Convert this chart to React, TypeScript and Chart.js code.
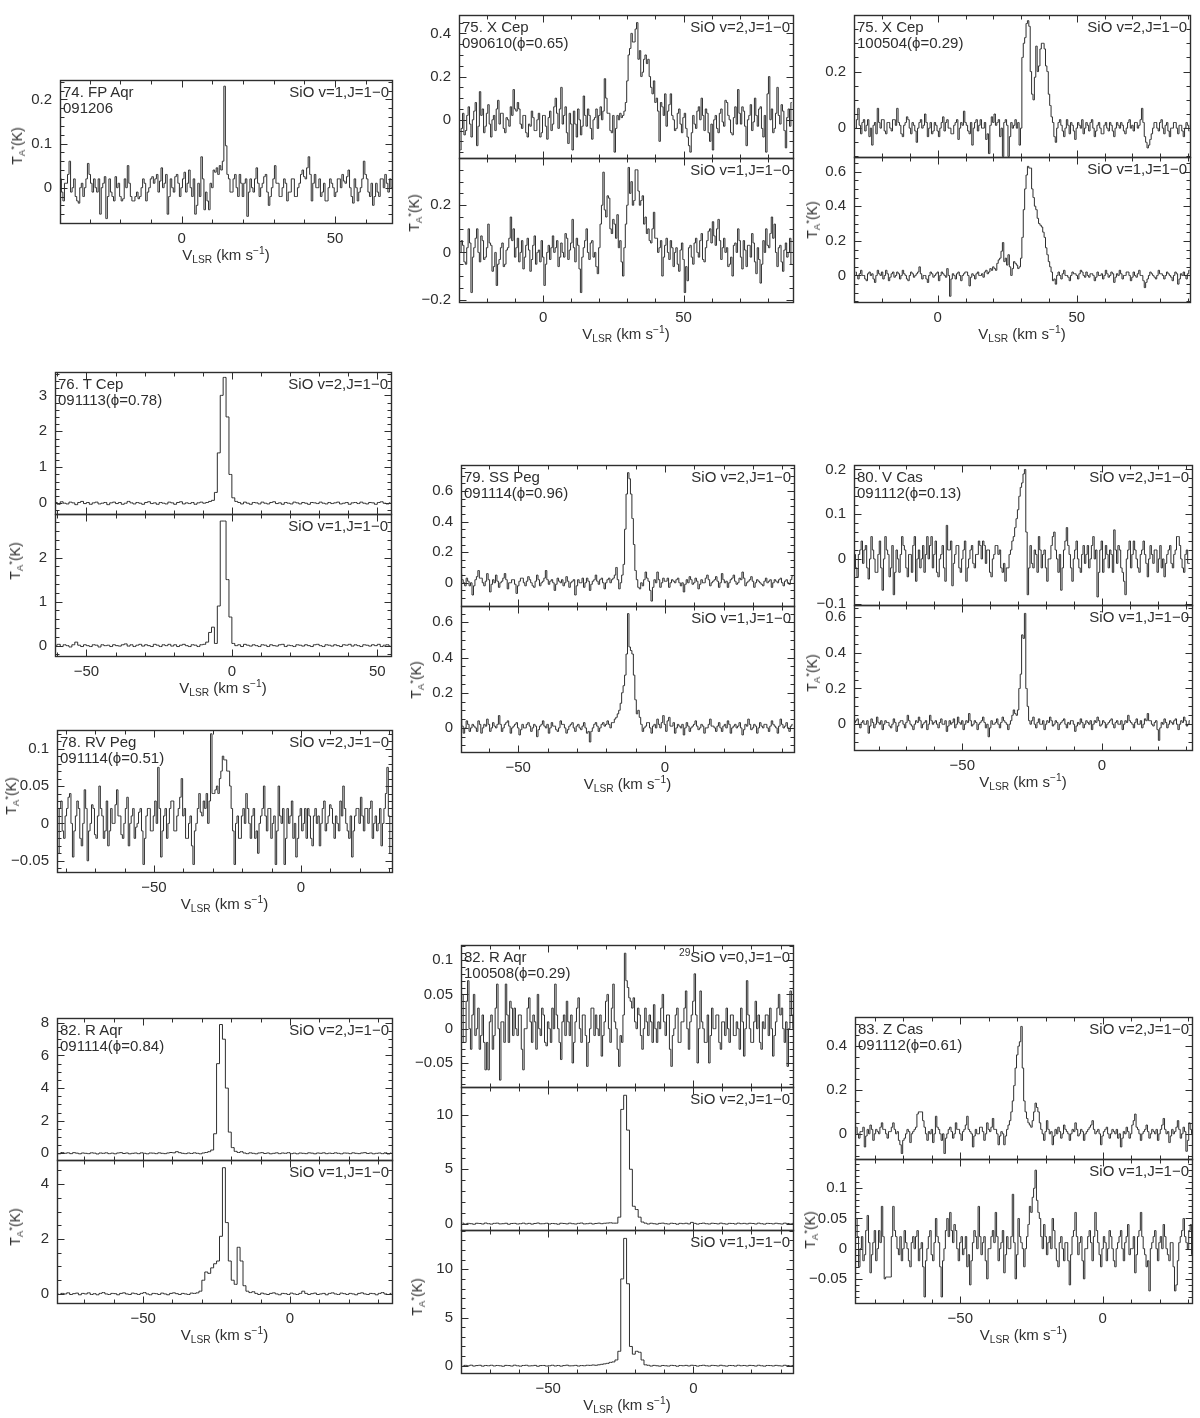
import React, { useEffect, useRef } from 'react';
import { Chart, registerables } from 'chart.js';

Chart.register(...registerables);

// ---------------- DATA (each spectrum: first-channel velocity v0, channel width dv, values) ----------------
const FP_AQR_V0 = -39.5;
const FP_AQR_DV = 0.5;
const FP_AQR_V1 = [
  0.02, -0.01, -0.03, 0.01, 0.01, 0.03, 0.06, -0.01, 0.0, 0.02, -0.02, -0.03, -0.035, 0.0, 0.01, -0.02, 0.0, 0.02, 0.055, 0.03,
  0.01, -0.01, 0.02, 0.0, -0.01, 0.02, -0.06, 0.0, 0.01, 0.025, -0.07, -0.02, 0.02, -0.01, -0.02, -0.03, 0.025, 0.0, 0.01, -0.02,
  -0.03, -0.025, 0.02, 0.0, 0.05, 0.01, -0.02, -0.03, -0.03, -0.02, -0.01, -0.025, -0.02, 0.0, 0.02, 0.01, -0.03, -0.01, 0.0, 0.02,
  0.025, 0.01, 0.02, 0.03, -0.01, 0.015, 0.045, 0.0, 0.01, 0.03, -0.06, -0.02, 0.02, 0.0, -0.01, 0.025, 0.03, 0.01, -0.02, 0.0,
  0.02, 0.035, -0.01, 0.01, 0.04, 0.0, -0.02, 0.02, -0.06, -0.04, 0.01, -0.02, 0.07, 0.02, -0.05, -0.01, -0.03, -0.05, 0.01, 0.0,
  0.04, 0.035, 0.045, 0.03, 0.05, 0.04, 0.06, 0.23, 0.095, 0.03, 0.02, -0.01, -0.01, 0.02, 0.03, 0.0, -0.02, 0.03, 0.01, -0.02,
  0.01, 0.02, -0.065, -0.01, 0.02, 0.0, -0.01, 0.02, 0.045, 0.01, -0.02, 0.0, 0.01, 0.025, 0.03, -0.01, -0.04, -0.02, 0.0, 0.02,
  0.05, 0.01, 0.01, -0.02, -0.02, 0.0, 0.02, 0.01, -0.03, -0.01, -0.01, 0.02, 0.02, -0.02, -0.02, 0.0, 0.01, 0.03, 0.04, 0.025,
  0.02, 0.045, 0.07, 0.03, -0.03, 0.01, 0.03, 0.0, 0.0, 0.02, -0.02, -0.01, 0.01, -0.03, -0.03, 0.0, 0.02, 0.01, 0.0, -0.02,
  -0.01, 0.02, 0.02, 0.0, 0.03, 0.015, 0.01, 0.025, 0.04, 0.0, -0.02, -0.035, 0.02, 0.0, -0.03, -0.01, 0.0, 0.02, 0.06, 0.03,
  0.02, -0.01, -0.02, 0.01, -0.04, -0.02, 0.01, -0.01, -0.02, 0.02, 0.02, 0.0, 0.03, 0.01, -0.01, 0.02, 0.0,
];

const XCEP_A_V0 = -29.5;
const XCEP_A_DV = 0.5;
const XCEP_A_V2 = [
  -0.14, -0.04, 0.03, -0.07, -0.05, 0.02, 0.06, -0.02, -0.08, 0.0, 0.04, 0.08, -0.12, -0.03, 0.13, 0.02, 0.05, -0.06, -0.03, 0.03,
  0.07, -0.02, -0.08, 0.0, 0.02, -0.05, 0.05, 0.09, -0.02, 0.03, 0.03, -0.04, -0.06, 0.01, 0.0, -0.03, 0.06, 0.02, 0.14, 0.05,
  0.04, 0.08, 0.05, -0.02, -0.04, 0.02, 0.02, -0.06, -0.08, -0.02, -0.03, 0.04, 0.01, -0.05, -0.05, 0.0, 0.03, -0.08, -0.06, 0.02,
  0.02, -0.03, -0.09, 0.01, 0.04, -0.05, -0.02, 0.06, 0.1, 0.03, -0.04, 0.05, 0.15, -0.02, 0.02, 0.06, -0.06, -0.11, 0.03, -0.02,
  -0.14, 0.04, -0.02, -0.08, 0.05, 0.0, -0.07, -0.03, 0.11, 0.02, -0.03, 0.05, 0.02, -0.04, -0.09, 0.0, 0.01, 0.05, -0.04, 0.02,
  0.06, 0.0, 0.04, 0.19, 0.1, 0.03, 0.03, -0.05, -0.06, 0.02, -0.15, -0.04, 0.02, 0.0, 0.03, 0.01, 0.02, 0.04, 0.08, 0.18,
  0.3, 0.33, 0.4, 0.36, 0.36, 0.42, 0.45, 0.28, 0.32, 0.2, 0.22, 0.28, 0.3, 0.26, 0.28, 0.2, 0.15, 0.12, 0.18, 0.08,
  0.1, 0.04, -0.1, 0.08, 0.06, 0.02, 0.12, -0.03, 0.04, 0.07, 0.12, 0.02, 0.0, -0.05, -0.04, 0.03, 0.05, -0.02, -0.06, 0.01,
  0.03, -0.04, -0.08, -0.12, -0.15, -0.06, 0.02, -0.02, -0.04, 0.04, 0.06, 0.0, 0.1, 0.02, -0.05, 0.05, 0.03, -0.06, -0.1, -0.02,
  -0.14, 0.0, 0.02, -0.04, -0.06, 0.03, 0.05, -0.01, -0.03, 0.09, 0.08, 0.02, 0.0, -0.06, -0.07, 0.01, 0.06, -0.02, 0.14, 0.03,
  -0.02, 0.06, 0.04, -0.03, -0.12, 0.0, 0.02, 0.07, -0.05, -0.01, 0.1, 0.02, -0.03, 0.05, 0.06, -0.04, -0.08, 0.02, -0.15, 0.12,
  0.2, 0.0, 0.05, -0.06, -0.04, 0.03, 0.15, 0.02, -0.02, 0.07, 0.04, -0.05, -0.13, 0.01, 0.05, -0.03, 0.08,
];
const XCEP_A_V1 = [
  0.0, 0.05, 0.03, -0.04, -0.05, 0.02, 0.1, 0.04, -0.17, -0.02, 0.02, 0.06, 0.1, 0.0, -0.04, 0.07, 0.05, -0.03, -0.02, 0.02,
  0.12, 0.04, 0.03, -0.08, -0.06, 0.0, -0.14, -0.05, -0.03, 0.02, 0.04, -0.06, -0.05, 0.01, 0.02, 0.06, 0.15, 0.05, 0.1, -0.02,
  0.02, 0.06, -0.04, 0.0, 0.05, -0.07, -0.02, 0.03, 0.06, 0.01, -0.08, -0.03, 0.03, 0.07, -0.05, 0.0, 0.01, -0.04, 0.05, -0.02,
  -0.14, -0.05, 0.0, 0.03, -0.03, 0.02, 0.07, 0.0, 0.02, 0.05, -0.06, -0.02, 0.04, 0.0, -0.02, 0.08, 0.06, -0.03, 0.01, 0.04,
  0.14, 0.02, -0.04, 0.06, 0.03, -0.07, -0.17, -0.02, 0.02, 0.05, 0.1, 0.0, -0.03, 0.04, 0.05, -0.02, 0.0, -0.06, -0.09, 0.02,
  0.12, 0.2, 0.34, 0.18, 0.15, 0.24, 0.23, 0.1, 0.08, 0.14, 0.12, 0.06, 0.16, 0.02, 0.05, -0.04, -0.1, 0.02, 0.12, 0.2,
  0.36, 0.25, 0.3, 0.2, 0.22, 0.35, 0.35, 0.26, 0.2, 0.22, 0.24, 0.12, 0.15, 0.08, 0.1, 0.05, 0.04, 0.1, 0.17, 0.06,
  0.06, 0.0, 0.02, 0.05, -0.1, -0.02, 0.03, 0.06, 0.0, -0.03, 0.05, 0.02, -0.06, 0.0, 0.02, -0.05, -0.08, 0.01, 0.04, -0.03,
  -0.17, -0.06, -0.12, 0.02, 0.03, -0.02, -0.05, 0.04, 0.06, 0.0, -0.02, 0.05, 0.08, -0.03, -0.04, 0.02, 0.05, 0.09, 0.1, 0.04,
  0.13, 0.07, 0.03, 0.1, 0.14, 0.05, -0.03, 0.02, 0.06, 0.0, 0.02, -0.06, -0.05, -0.02, -0.1, 0.03, 0.04, 0.0, 0.1, 0.05,
  -0.02, -0.07, 0.05, 0.01, -0.06, 0.03, 0.03, -0.02, 0.08, 0.04, -0.04, -0.09, 0.02, -0.03, -0.13, -0.05, 0.05, 0.0, 0.1, 0.03,
  0.02, 0.08, 0.15, 0.06, 0.12, 0.0, -0.06, 0.02, 0.03, -0.04, -0.08, 0.01, 0.04, -0.02, 0.0, 0.06, -0.05,
];

const XCEP_B_V0 = -29.5;
const XCEP_B_DV = 0.5;
const XCEP_B_V2 = [
  0.0, 0.03, 0.07, 0.01, -0.02, 0.02, 0.03, -0.01, 0.01, 0.03, -0.03, 0.0, -0.06, 0.01, 0.02, -0.02, 0.07, 0.02, 0.0, 0.03,
  0.03, -0.01, -0.02, 0.02, 0.02, 0.0, -0.01, 0.03, 0.03, 0.01, 0.07, 0.02, 0.01, -0.02, -0.03, 0.01, 0.02, 0.04, 0.03, 0.0,
  -0.02, 0.02, 0.01, -0.01, -0.05, 0.0, 0.02, 0.03, 0.0, 0.01, 0.05, 0.02, -0.03, 0.0, 0.02, -0.02, -0.01, 0.02, 0.01, -0.01,
  -0.03, 0.0, 0.02, 0.04, -0.01, 0.02, 0.03, 0.0, 0.0, -0.02, -0.02, 0.01, 0.02, 0.03, -0.04, 0.0, 0.02, 0.01, 0.06, 0.02,
  0.01, -0.01, -0.02, 0.02, -0.06, 0.0, 0.02, 0.03, -0.01, 0.01, 0.03, 0.0, 0.0, 0.02, -0.04, -0.02, -0.09, 0.01, 0.04, 0.02,
  0.05, 0.01, 0.02, 0.03, -0.03, 0.0, -0.1, 0.02, 0.03, 0.01, -0.1, -0.03, 0.02, 0.0, 0.01, 0.03, 0.0, 0.02, -0.06, 0.0,
  0.25, 0.3, 0.32, 0.37, 0.38, 0.36, 0.2, 0.12, 0.1, 0.18, 0.29, 0.2, 0.22, 0.28, 0.3, 0.3, 0.28, 0.22, 0.2, 0.12,
  0.08, 0.04, 0.02, -0.03, -0.05, 0.0, 0.02, 0.03, 0.01, -0.01, -0.03, 0.0, 0.03, 0.01, -0.02, 0.02, 0.01, -0.01, -0.04, 0.0,
  0.02, 0.01, 0.0, 0.03, -0.02, 0.0, 0.02, 0.01, -0.01, 0.02, 0.03, 0.0, -0.03, -0.01, 0.01, 0.02, 0.0, -0.02, -0.02, 0.01,
  0.02, 0.0, -0.01, 0.02, 0.01, -0.01, -0.03, 0.0, 0.02, 0.01, 0.0, 0.02, 0.01, -0.01, -0.02, 0.0, 0.02, 0.03, 0.0, 0.01,
  -0.01, 0.02, 0.02, 0.0, 0.01, 0.03, 0.07, 0.02, -0.03, -0.05, -0.07, -0.06, -0.04, -0.02, 0.0, 0.02, 0.02, 0.0, -0.01, 0.02,
  0.03, 0.0, -0.02, 0.01, 0.02, -0.01, -0.03, 0.0, 0.0, 0.02, 0.02, 0.0, -0.02, 0.01, 0.01, -0.01, -0.03, 0.0, 0.02, 0.01,
  -0.01,
];
const XCEP_B_V1 = [
  0.02, 0.0, -0.02, 0.01, 0.03, 0.0, 0.0, -0.02, -0.03, 0.01, 0.02, 0.0, 0.01, -0.02, -0.04, 0.0, 0.03, 0.01, 0.0, 0.02,
  -0.02, 0.0, 0.03, 0.01, -0.03, -0.01, 0.01, 0.02, -0.01, 0.0, 0.02, 0.01, -0.02, 0.0, 0.03, 0.01, 0.0, -0.02, -0.03, 0.0,
  0.02, 0.01, -0.01, 0.0, 0.01, 0.02, 0.05, 0.01, -0.02, 0.0, 0.0, -0.02, -0.04, 0.0, 0.02, 0.01, -0.01, 0.0, 0.01, 0.02,
  -0.03, 0.0, 0.02, 0.01, 0.0, -0.01, 0.04, 0.0, -0.12, -0.02, 0.01, 0.0, -0.02, 0.01, 0.02, 0.0, -0.03, 0.0, 0.01, 0.02,
  0.02, 0.0, -0.06, -0.01, 0.01, 0.0, -0.02, 0.01, 0.02, 0.0, 0.0, 0.01, -0.01, 0.02, 0.03, 0.01, 0.02, 0.04, 0.03, 0.05,
  0.04, 0.03, 0.07, 0.09, 0.1, 0.14, 0.19, 0.08, 0.1, 0.06, 0.12, 0.05, 0.0, 0.04, 0.08, 0.07, 0.06, 0.04, 0.05, 0.1,
  0.22, 0.38, 0.5, 0.58, 0.63, 0.62, 0.62, 0.5, 0.45, 0.4, 0.38, 0.33, 0.3, 0.29, 0.28, 0.25, 0.22, 0.16, 0.12, 0.08,
  0.05, 0.02, -0.03, -0.02, -0.05, 0.0, 0.02, 0.0, -0.02, 0.01, 0.03, 0.0, 0.0, -0.01, -0.03, 0.0, 0.02, 0.01, 0.01, 0.0,
  -0.02, 0.01, 0.03, 0.02, 0.0, -0.01, 0.02, 0.0, -0.01, 0.01, 0.01, 0.0, -0.03, -0.01, 0.02, 0.0, 0.0, 0.01, -0.02, 0.0,
  0.03, 0.01, -0.01, 0.0, 0.02, 0.01, -0.04, -0.01, 0.01, 0.0, 0.03, 0.01, -0.02, 0.0, 0.0, 0.02, 0.02, 0.0, -0.03, -0.01,
  0.02, 0.0, -0.01, 0.01, 0.03, 0.0, 0.0, -0.03, -0.07, -0.04, -0.02, 0.0, 0.02, 0.01, 0.0, -0.01, -0.02, 0.0, 0.03, 0.01,
  0.01, 0.0, -0.02, 0.0, 0.02, 0.01, 0.0, -0.01, -0.03, 0.0, 0.02, 0.01, -0.05, -0.02, 0.01, 0.0, 0.02, 0.0, -0.02, 0.01,
  0.03,
];

const TCEP_V0 = -60.5;
const TCEP_DV = 1;
const TCEP_V2 = [
  0.02, -0.03, 0.04, 0.0, -0.02, 0.03, 0.01, -0.04, 0.02, 0.05,
  -0.01, 0.02, -0.03, 0.01, 0.03, -0.02, 0.0, 0.02, -0.04, 0.01,
  0.03, -0.01, 0.02, -0.03, 0.0, 0.05, 0.01, -0.02, 0.02, 0.0,
  -0.03, 0.02, 0.04, -0.01, 0.01, -0.03, 0.02, 0.0, -0.02, 0.03,
  0.01, -0.03, 0.02, 0.04, -0.02, 0.01, -0.01, 0.02, -0.03, 0.01,
  0.03, 0.0, 0.02, 0.05, 0.08, 0.3, 1.4, 3.0, 3.5, 2.4,
  0.8, 0.15, 0.05, 0.02, -0.02, 0.03, 0.0, -0.03, 0.02, 0.01,
  -0.02, 0.03, 0.0, -0.02, 0.02, 0.04, -0.01, 0.01, -0.03, 0.02,
  0.0, -0.02, 0.03, 0.01, -0.02, 0.02, 0.0, -0.03, 0.02, 0.01,
  -0.01, 0.03, 0.0, -0.02, 0.02, -0.01, 0.01, 0.03, -0.02, 0.0,
  0.02, -0.03, 0.01, 0.02, -0.01, 0.03, 0.0, -0.02, 0.02, 0.01,
  -0.03, 0.02, 0.04, 0.0, -0.02, 0.01,
];
const TCEP_V1 = [
  0.01, 0.03, -0.02, 0.02, 0.0, -0.03, 0.02, 0.08, 0.01, -0.02,
  0.02, 0.0, -0.02, 0.02, 0.01, -0.03, 0.02, 0.0, 0.01, -0.02,
  0.02, 0.0, -0.01, 0.02, 0.04, -0.01, 0.02, -0.02, 0.01, 0.03,
  -0.01, 0.02, 0.0, -0.02, 0.03, 0.01, -0.02, 0.02, 0.0, 0.03,
  -0.01, 0.02, -0.02, 0.01, 0.03, 0.0, -0.02, 0.02, 0.01, -0.02,
  0.02, 0.03, 0.08, 0.3, 0.42, 0.05, 0.9, 2.83, 2.83, 1.5,
  0.65, 0.05, 0.0, 0.02, -0.02, 0.03, 0.01, -0.01, 0.02, 0.0,
  -0.02, 0.02, 0.01, -0.02, 0.02, 0.0, -0.01, 0.02, 0.03, -0.02,
  0.01, 0.0, -0.02, 0.02, 0.01, -0.01, 0.02, 0.0, -0.02, 0.02,
  0.03, 0.0, -0.02, 0.02, 0.01, -0.01, 0.02, 0.0, -0.02, 0.02,
  0.01, 0.03, -0.01, 0.02, 0.0, -0.02, 0.02, 0.01, -0.01, 0.02,
  0.0, 0.03, -0.02, 0.01, 0.02, -0.01,
];

const RVPEG_V0 = -82.5;
const RVPEG_DV = 0.5;
const RVPEG_V2 = [
  -0.04, 0.02, 0.03, -0.01, -0.02, 0.01, 0.02, 0.035, 0.04, 0.0, -0.045, -0.01, 0.01, 0.03, 0.02, -0.02, -0.03, 0.0, 0.045, 0.02,
  -0.05, -0.01, 0.0, 0.025, 0.02, -0.015, -0.02, 0.01, 0.05, 0.02, 0.01, -0.02, -0.01, 0.03, -0.03, -0.01, 0.02, 0.0, 0.0, 0.025,
  0.045, 0.01, 0.01, -0.015, -0.02, 0.0, 0.02, 0.035, -0.03, 0.0, 0.01, 0.02, -0.02, -0.005, 0.0, 0.015, 0.02, -0.01, -0.055, -0.02,
  0.01, 0.02, 0.02, -0.01, -0.01, 0.01, 0.03, 0.0, 0.075, 0.02, -0.045, -0.01, 0.01, 0.02, -0.02, 0.0, 0.02, 0.03, 0.03, -0.01,
  -0.01, 0.01, 0.02, 0.035, 0.06, 0.01, 0.02, -0.02, -0.02, 0.0, 0.01, -0.03, -0.055, -0.01, 0.0, 0.02, 0.04, 0.015, 0.01, 0.03,
  0.02, 0.04, 0.0, 0.03, 0.12, 0.04, 0.04, 0.045, 0.05, 0.04, 0.06, 0.07, 0.09, 0.085, 0.085, 0.07, 0.07, 0.05, 0.02, -0.01,
  -0.055, 0.0, 0.01, -0.02, -0.02, 0.01, 0.02, 0.0, 0.04, 0.02, 0.0, -0.02, 0.01, 0.02, -0.02, -0.01, -0.04, 0.0, 0.01, 0.02,
  0.05, 0.01, -0.01, 0.02, 0.02, -0.02, 0.0, 0.01, -0.055, -0.01, 0.05, 0.01, 0.0, 0.02, -0.055, -0.02, 0.02, 0.0, 0.01, 0.03,
  -0.02, 0.0, -0.045, -0.02, 0.01, 0.02, -0.01, 0.0, 0.02, -0.02, 0.02, 0.01, -0.02, -0.03, 0.01, 0.02, 0.0, 0.01, -0.03, 0.0,
  0.02, 0.03, -0.01, 0.0, 0.01, 0.025, 0.02, 0.0, -0.02, 0.01, 0.0, -0.01, 0.03, 0.01, 0.05, 0.02, 0.0, -0.01, -0.02, 0.01,
  -0.045, -0.01, 0.01, 0.02, 0.02, 0.0, 0.035, 0.01, -0.01, 0.02, 0.02, 0.0, 0.02, 0.03, -0.02, 0.0, 0.01, -0.01, 0.0, 0.02,
  -0.03, 0.0, 0.02, 0.04, 0.075, 0.01, -0.04,
];

const SSPEG_V0 = -69.5;
const SSPEG_DV = 0.5;
const SSPEG_V2 = [
  0.06, 0.02, 0.0, -0.02, 0.03, 0.01, -0.02, 0.0, -0.08, -0.02, 0.02, 0.04, 0.08, 0.03, 0.03, 0.0, -0.02, 0.01, 0.06, 0.02,
  -0.06, -0.01, 0.02, 0.0, 0.05, 0.01, -0.03, 0.0, 0.01, 0.03, 0.06, 0.02, -0.04, 0.0, 0.0, 0.02, 0.02, -0.01, -0.07, -0.02,
  0.01, 0.03, 0.03, 0.0, -0.02, 0.01, 0.04, 0.02, 0.0, -0.02, -0.03, 0.01, 0.05, 0.02, -0.02, 0.0, 0.01, 0.03, 0.08, 0.02,
  -0.01, 0.01, 0.02, 0.0, -0.05, -0.01, 0.03, 0.01, 0.0, 0.02, -0.02, 0.0, 0.04, 0.01, -0.03, 0.0, 0.01, 0.02, -0.08, -0.02,
  0.02, 0.0, 0.0, 0.03, -0.03, 0.0, 0.03, 0.01, -0.05, -0.01, 0.01, 0.02, 0.05, 0.01, -0.01, 0.02, 0.03, 0.0, -0.04, 0.0,
  0.02, 0.03, 0.0, 0.02, 0.03, 0.05, 0.1, 0.02, -0.04, 0.0, 0.05, 0.12, 0.35, 0.58, 0.72, 0.68, 0.58, 0.42, 0.25, 0.08,
  0.02, -0.03, -0.04, 0.0, -0.02, 0.02, 0.07, 0.03, 0.01, -0.05, -0.12, -0.03, 0.02, 0.0, 0.07, 0.02, -0.03, 0.0, 0.03, 0.01,
  0.01, 0.03, -0.03, 0.0, 0.02, 0.01, 0.0, 0.02, 0.03, 0.0, -0.02, 0.0, -0.06, -0.01, 0.02, 0.0, 0.04, 0.02, -0.01, 0.0,
  0.03, 0.01, -0.04, -0.01, 0.02, 0.0, 0.0, 0.03, 0.05, 0.02, -0.02, 0.0, 0.01, 0.02, 0.04, 0.01, -0.03, 0.0, 0.06, 0.02,
  0.0, 0.01, -0.03, 0.0, 0.02, 0.03, 0.05, 0.01, -0.01, 0.0, 0.03, 0.02, 0.07, 0.03, -0.02, 0.0, 0.01, 0.02, 0.04, 0.01,
  -0.03, 0.0, 0.02, 0.01, 0.0, -0.01, -0.02, 0.01, 0.03, 0.0, 0.01, 0.02, -0.03, 0.0, 0.02, 0.01, 0.0, 0.02, 0.03, 0.0,
  -0.02, 0.01, 0.02, 0.0, -0.01, 0.02, 0.04,
];
const SSPEG_V1 = [
  0.05, 0.01, -0.03, 0.0, 0.04, 0.02, -0.02, 0.0, 0.02, 0.01, 0.0, -0.02, 0.04, 0.02, -0.03, 0.0, 0.02, 0.01, 0.05, 0.02,
  -0.02, 0.0, 0.03, 0.01, 0.0, 0.02, 0.07, 0.02, -0.02, 0.0, 0.02, 0.03, 0.04, 0.01, -0.03, 0.0, 0.01, 0.02, 0.03, 0.0,
  -0.04, -0.01, 0.02, 0.0, 0.0, 0.02, 0.03, 0.01, -0.02, 0.0, 0.02, 0.01, -0.05, -0.01, 0.01, 0.02, 0.04, 0.01, 0.0, 0.02,
  -0.03, 0.0, 0.03, 0.01, 0.01, -0.01, -0.02, 0.0, 0.04, 0.02, 0.02, 0.0, -0.03, -0.01, 0.01, 0.02, 0.03, 0.0, -0.02, 0.01,
  0.02, 0.0, -0.01, 0.01, 0.03, 0.0, -0.03, -0.02, -0.08, -0.02, 0.0, 0.02, 0.03, 0.01, -0.02, 0.0, 0.02, 0.03, 0.01, 0.02,
  0.04, 0.02, 0.0, 0.03, 0.03, 0.05, 0.06, 0.08, 0.1, 0.14, 0.2, 0.24, 0.3, 0.42, 0.65, 0.46, 0.44, 0.42, 0.3, 0.16,
  0.08, 0.1, 0.06, 0.02, -0.02, 0.0, 0.01, 0.03, 0.03, 0.0, -0.03, 0.01, 0.02, 0.0, 0.05, 0.02, 0.0, 0.03, 0.07, 0.02,
  -0.02, 0.04, 0.06, 0.01, 0.01, 0.03, -0.03, 0.0, 0.02, 0.01, 0.0, 0.02, -0.04, 0.0, 0.03, 0.01, -0.02, 0.0, 0.01, 0.02,
  0.04, 0.01, -0.01, 0.0, 0.02, 0.01, -0.03, 0.0, 0.0, 0.02, 0.05, 0.01, 0.01, 0.0, -0.02, 0.01, 0.03, 0.0, -0.02, 0.01,
  0.02, 0.0, 0.04, 0.02, -0.03, 0.0, 0.01, 0.02, 0.0, 0.01, 0.03, 0.0, -0.04, -0.01, 0.02, 0.01, 0.05, 0.02, -0.01, 0.0,
  0.02, 0.01, -0.03, 0.0, 0.03, 0.01, 0.0, 0.02, 0.02, 0.0, -0.02, 0.01, 0.04, 0.02, 0.01, 0.0, -0.03, 0.01, 0.05, 0.02,
  0.0, 0.01, 0.03, 0.0, -0.02, 0.01, 0.02,
];

const VCAS_V0 = -88.5;
const VCAS_DV = 0.5;
const VCAS_V2 = [
  0.01, -0.02, -0.04, 0.01, 0.02, 0.04, -0.01, 0.02, 0.03, -0.02, -0.045, 0.0, 0.05, 0.02, 0.0, -0.03, -0.03, 0.01, 0.04, -0.02,
  -0.07, 0.0, 0.05, 0.02, 0.01, -0.04, -0.02, 0.03, -0.08, -0.03, 0.02, 0.0, -0.03, 0.01, 0.05, 0.03, 0.02, -0.02, -0.04, 0.01,
  0.01, -0.03, 0.03, 0.05, -0.05, 0.0, 0.02, -0.02, 0.0, 0.03, -0.03, 0.01, 0.05, 0.0, 0.03, 0.05, -0.02, 0.01, 0.04, -0.03,
  -0.04, 0.0, 0.01, 0.03, -0.02, -0.05, 0.075, 0.02, 0.02, 0.04, -0.06, -0.01, 0.01, 0.03, 0.03, -0.02, -0.03, 0.0, 0.02, 0.04,
  -0.05, -0.02, 0.0, 0.02, 0.03, -0.01, -0.02, 0.01, 0.01, 0.04, 0.03, 0.0, 0.04, 0.03, -0.01, 0.02, 0.02, -0.03, -0.04, 0.0,
  0.01, 0.03, 0.03, 0.01, 0.02, -0.02, -0.03, -0.01, -0.05, -0.02, -0.02, 0.01, 0.02, 0.04, 0.05, 0.07, 0.09, 0.11, 0.14, 0.16,
  0.17, 0.19, 0.2, 0.06, -0.08, -0.02, 0.03, -0.01, -0.02, 0.02, 0.01, -0.03, 0.05, 0.02, -0.02, 0.01, 0.02, -0.02, -0.05, 0.0,
  0.0, 0.03, 0.05, 0.06, 0.02, 0.0, -0.03, 0.01, -0.07, -0.02, 0.02, 0.04, 0.07, 0.03, 0.01, -0.02, -0.05, 0.0, 0.02, 0.04,
  0.0, -0.02, -0.03, 0.01, 0.03, -0.01, 0.01, 0.03, -0.02, 0.0, 0.03, 0.05, 0.0, 0.02, -0.085, -0.03, 0.02, 0.04, -0.03, 0.0,
  0.03, 0.01, -0.02, 0.02, 0.01, -0.03, 0.065, 0.02, -0.01, 0.03, 0.02, -0.02, -0.03, -0.05, -0.08, 0.0, 0.02, 0.04, -0.02, 0.01,
  0.04, 0.02, 0.0, -0.02, -0.03, 0.01, 0.02, 0.04, 0.01, -0.01, -0.04, 0.0, 0.03, 0.01, -0.01, 0.02, 0.02, -0.03, 0.0, 0.03,
  -0.02, 0.0, -0.04, -0.01, 0.01, 0.02, 0.03, -0.01, -0.02, 0.01, 0.02, 0.05, 0.05, 0.03, 0.0, -0.02, -0.03, 0.01, 0.02, -0.01,
  -0.01,
];
const VCAS_V1 = [
  0.01, 0.02, 0.03, 0.0, -0.02, 0.01, 0.02, 0.0, 0.0, 0.02, -0.05, -0.01, 0.03, 0.01, -0.02, 0.0, 0.04, 0.01, 0.0, 0.02,
  -0.03, 0.0, 0.02, 0.01, 0.01, -0.01, -0.02, 0.0, 0.03, 0.01, -0.04, -0.01, 0.01, 0.02, 0.02, 0.0, -0.02, 0.01, 0.05, 0.02,
  0.0, -0.01, -0.03, 0.0, 0.02, 0.01, 0.04, 0.02, -0.02, 0.0, 0.01, 0.02, -0.03, 0.0, 0.05, 0.02, 0.0, 0.01, 0.02, 0.0,
  -0.02, 0.01, 0.03, 0.0, 0.0, 0.02, -0.04, -0.01, 0.02, 0.0, 0.01, 0.03, -0.02, 0.0, 0.04, 0.01, 0.0, 0.02, -0.03, 0.0,
  0.02, 0.01, 0.06, 0.02, -0.01, 0.0, 0.02, 0.01, -0.03, 0.0, 0.01, 0.02, 0.04, 0.01, -0.02, 0.0, -0.07, -0.02, 0.02, 0.0,
  0.0, 0.01, 0.03, 0.0, -0.02, 0.01, 0.04, 0.02, 0.01, 0.0, -0.03, 0.0, 0.02, 0.05, 0.08, 0.06, 0.05, 0.08, 0.2, 0.28,
  0.5, 0.48, 0.62, 0.2, 0.1, 0.02, 0.0, 0.02, 0.04, 0.0, -0.02, 0.01, 0.03, 0.0, 0.0, 0.02, -0.03, 0.0, 0.02, 0.01,
  0.04, 0.02, -0.01, 0.0, 0.02, 0.01, -0.03, 0.0, 0.01, 0.02, 0.03, 0.0, -0.02, 0.01, 0.0, 0.02, 0.02, 0.0, -0.04, -0.01,
  0.01, 0.0, 0.03, 0.01, -0.02, 0.0, 0.02, 0.01, 0.0, 0.02, -0.03, 0.0, 0.02, 0.01, 0.04, 0.02, -0.01, 0.0, 0.02, 0.01,
  -0.02, 0.0, 0.01, 0.02, 0.03, 0.0, -0.02, 0.01, 0.02, 0.0, 0.0, 0.02, -0.03, 0.0, 0.02, 0.01, 0.05, 0.02, 0.01, 0.0,
  -0.02, 0.01, 0.03, 0.0, 0.0, 0.02, -0.02, 0.0, 0.03, 0.02, 0.06, 0.02, 0.02, 0.0, -0.01, 0.01, 0.02, -0.03, -0.09, -0.02,
  0.01, 0.0, 0.03, 0.01, -0.02, 0.0, 0.02, 0.01, 0.0, 0.02, 0.03, 0.0, -0.03, 0.0, 0.02, 0.01, 0.04, 0.02, -0.01, 0.0,
  0.02,
];

const RAQR_A_V0 = -79.5;
const RAQR_A_DV = 1;
const RAQR_A_V2 = [
  0.02, -0.03, 0.05, 0.0, 0.03, -0.02, 0.04, 0.01, -0.03, 0.02,
  0.0, -0.02, 0.03, 0.01, -0.04, 0.02, 0.0, 0.03, -0.02, 0.01,
  -0.03, 0.02, 0.04, -0.01, 0.02, -0.03, 0.0, 0.02, -0.02, 0.03,
  0.0, -0.03, 0.02, 0.01, -0.02, 0.03, 0.0, -0.02, 0.02, 0.05,
  0.03, 0.1, 0.04, 0.0, -0.02, 0.02, -0.01, 0.03, 0.0, -0.03,
  0.02, 0.05, 0.1, 0.2, 1.2, 5.5, 7.9, 7.0, 4.0, 1.3,
  0.35, 0.12, 0.05, 0.1, 0.02, -0.02, 0.03, 0.0, -0.03, 0.02,
  0.04, -0.01, 0.02, -0.03, 0.0, 0.03, -0.02, 0.02, 0.0, 0.04,
  -0.02, 0.01, -0.03, 0.02, 0.0, -0.02, 0.03, 0.01, -0.03, 0.02,
  0.0, 0.03, -0.02, 0.01, -0.01, 0.03, 0.0, -0.03, 0.02, 0.01,
  -0.02, 0.03, 0.0, -0.02, 0.02, 0.04, -0.01, 0.02, -0.03, 0.0,
  0.02, -0.02, 0.03, -0.04, 0.02,
];
const RAQR_A_V1 = [
  0.03, -0.02, 0.02, 0.0, 0.04, -0.02, 0.01, 0.03, -0.03, 0.02,
  0.0, 0.04, -0.02, 0.01, -0.03, 0.02, 0.05, 0.0, -0.02, 0.02,
  0.01, -0.03, 0.02, 0.04, 0.0, -0.02, 0.03, 0.01, -0.02, 0.02,
  0.05, 0.0, -0.03, 0.02, 0.01, -0.02, 0.03, 0.0, -0.03, 0.02,
  0.04, 0.01, -0.02, 0.02, 0.0, -0.02, 0.03, 0.02, 0.04, 0.1,
  0.5, 0.8, 0.75, 0.95, 1.1, 1.2, 2.1, 4.6, 2.6, 1.2,
  0.5, 0.35, 1.7, 1.2, 0.3, 0.1, 0.05, 0.08, 0.02, -0.02,
  0.03, 0.0, -0.02, 0.02, 0.04, 0.0, -0.03, 0.02, 0.01, -0.02,
  0.03, 0.0, -0.02, 0.02, 0.1, 0.02, -0.02, 0.01, 0.03, -0.02,
  0.0, 0.02, -0.03, 0.02, 0.04, 0.0, -0.02, 0.03, 0.01, -0.02,
  0.02, 0.0, -0.03, 0.02, 0.04, 0.0, -0.02, 0.02, 0.01, -0.03,
  0.02, 0.05, 0.0, -0.02, 0.02,
];

const RAQR_B_V0 = -79.5;
const RAQR_B_29SIO_DV = 0.5;
const RAQR_B_29SIO_V0 = [
  0.05, -0.02, -0.02, 0.04, 0.07, 0.0, -0.03, 0.02, 0.05, -0.01, 0.0, 0.03, -0.03, -0.01, 0.02, -0.02, -0.06, -0.02, -0.06, 0.01,
  0.02, -0.03, -0.01, 0.03, 0.065, 0.0, -0.075, 0.01, 0.01, -0.02, 0.065, 0.02, -0.02, 0.04, 0.03, -0.01, 0.03, 0.0, -0.01, 0.02,
  0.02, -0.03, -0.06, 0.0, 0.0, 0.03, 0.045, 0.01, -0.02, 0.02, 0.01, -0.03, 0.05, 0.0, -0.01, 0.03, 0.02, -0.02, -0.025, 0.01,
  0.0, -0.02, 0.03, 0.0, 0.065, 0.02, 0.0, -0.02, -0.045, 0.01, 0.02, -0.01, 0.04, 0.01, -0.01, 0.02, -0.05, -0.02, 0.01, 0.03,
  0.045, 0.0, -0.02, 0.02, 0.02, -0.01, -0.055, -0.02, 0.0, 0.03, 0.03, -0.01, 0.02, 0.0, -0.01, 0.02, -0.04, -0.01, 0.01, 0.04,
  0.05, 0.0, -0.02, 0.03, 0.065, 0.01, 0.0, -0.03, -0.055, -0.01, -0.02, 0.02, 0.11, 0.07, 0.06, 0.045, 0.04, 0.03, 0.045, 0.01,
  0.0, 0.03, 0.02, -0.01, -0.03, 0.0, 0.03, 0.01, -0.01, 0.02, 0.01, -0.02, 0.035, 0.0, -0.02, 0.01, 0.0, 0.03, 0.05, 0.01,
  -0.01, 0.02, 0.02, -0.03, -0.055, -0.01, 0.0, 0.02, 0.03, -0.02, -0.02, 0.01, 0.01, 0.03, 0.055, 0.0, -0.03, 0.01, 0.02, 0.04,
  0.08, 0.02, -0.05, 0.0, 0.055, 0.01, 0.0, -0.02, -0.02, 0.02, -0.05, -0.01, 0.03, 0.0, 0.0, 0.02, 0.02, -0.02, -0.03, 0.01,
  0.01, -0.01, 0.03, 0.0, -0.02, 0.02, 0.02, -0.01, -0.01, 0.01, 0.0, -0.03, 0.03, 0.01, -0.04, 0.0, 0.07, 0.02, 0.0, -0.02,
  -0.02, 0.01, 0.04, 0.0, 0.02, -0.02, -0.03, 0.01, 0.0, 0.02, 0.02, -0.01, 0.03, 0.0, -0.04, -0.01, 0.01, 0.03, 0.05, 0.02,
  0.03, 0.0, -0.02, 0.01, -0.055, 0.0, 0.055, 0.02, 0.0,
];
const RAQR_B_DV = 1;
const RAQR_B_V2 = [
  0.05, -0.04, 0.03, 0.0, -0.05, 0.04, 0.02, -0.03, 0.06, 0.0,
  -0.04, 0.03, 0.05, -0.02, 0.0, 0.04, -0.05, 0.02, 0.03, -0.03,
  0.0, 0.05, -0.02, 0.03, -0.04, 0.02, 0.06, -0.01, 0.0, 0.04,
  -0.03, 0.02, 0.0, -0.05, 0.04, 0.02, -0.02, 0.05, 0.0, -0.03,
  0.03, 0.06, -0.02, 0.0, 0.04, -0.03, 0.02, 0.05, 0.0, 0.04,
  0.06, 0.08, 0.05, 0.05, 0.6, 10.5, 11.8, 8.6, 5.0, 1.6,
  1.3, 0.6, 0.15, 0.05, -0.03, 0.04, 0.0, -0.04, 0.03, 0.05,
  0.0, -0.03, 0.04, 0.02, -0.05, 0.03, 0.0, 0.04, -0.02, 0.12,
  0.03, -0.04, 0.02, 0.05, 0.0, -0.03, 0.04, 0.02, -0.02, 0.05,
  0.0, -0.04, 0.03, 0.02, -0.03, 0.05, 0.0, 0.03, -0.02, 0.04,
  0.02, -0.03, 0.05, 0.0, -0.04, 0.03, 0.02, -0.02, 0.04, 0.0,
  -0.03, 0.05, 0.02, -0.02, 0.03,
];
const RAQR_B_V1 = [
  -0.05, 0.04, 0.0, 0.06, -0.03, 0.02, 0.05, -0.04, 0.03, 0.0,
  0.05, -0.02, 0.03, 0.0, -0.05, 0.04, 0.02, -0.03, 0.06, 0.0,
  -0.04, 0.03, 0.05, -0.02, 0.0, 0.04, -0.05, 0.02, 0.03, -0.03,
  0.0, 0.05, -0.02, 0.03, -0.04, 0.02, 0.06, -0.01, 0.0, 0.04,
  -0.03, 0.02, 0.0, 0.05, 0.04, 0.08, 0.05, 0.1, 0.15, 0.2,
  0.25, 0.35, 0.4, 0.6, 1.5, 9.0, 13.2, 8.5, 2.0, 1.2,
  1.5, 1.4, 0.6, 0.1, 0.05, -0.03, 0.04, 0.0, -0.04, 0.03,
  0.0, -0.03, 0.04, 0.02, -0.05, 0.03, 0.0, 0.04, -0.02, 0.05,
  0.03, -0.04, 0.02, 0.05, 0.0, -0.03, 0.04, 0.02, -0.02, 0.05,
  0.0, -0.04, 0.03, 0.02, -0.03, 0.05, 0.0, 0.03, -0.02, 0.04,
  0.02, -0.03, 0.05, 0.0, -0.04, 0.03, 0.02, -0.02, 0.04, 0.0,
  -0.03, 0.05, 0.02, -0.02, 0.03,
];

const ZCAS_V0 = -86.5;
const ZCAS_DV = 0.5;
const ZCAS_V2 = [
  0.03, 0.0, -0.02, 0.01, 0.01, 0.03, -0.06, -0.01, 0.02, 0.0, 0.04, 0.02, -0.03, 0.0, 0.02, 0.01, 0.0, 0.03, 0.05, 0.02,
  0.02, 0.0, -0.02, 0.01, 0.01, 0.03, 0.05, 0.02, 0.0, 0.01, -0.03, -0.05, -0.09, -0.03, -0.02, 0.0, 0.02, 0.01, -0.04, 0.0,
  0.01, 0.02, 0.03, 0.09, 0.1, 0.1, 0.1, 0.06, 0.03, 0.0, -0.03, 0.01, 0.0, 0.02, -0.04, 0.0, 0.08, 0.03, 0.02, 0.0,
  -0.03, 0.0, -0.09, -0.02, 0.0, 0.02, 0.03, 0.01, -0.02, 0.0, 0.05, 0.02, 0.02, 0.0, -0.03, 0.01, 0.02, 0.04, 0.08, 0.02,
  0.01, 0.0, -0.06, -0.01, 0.02, 0.0, 0.0, 0.03, 0.03, 0.01, -0.03, 0.0, 0.05, 0.02, 0.01, 0.03, 0.07, 0.02, 0.02, 0.0,
  -0.05, -0.01, 0.01, 0.0, -0.05, -0.01, 0.02, 0.04, 0.06, 0.1, 0.15, 0.22, 0.3, 0.36, 0.4, 0.42, 0.49, 0.3, 0.15, 0.1,
  0.07, 0.05, 0.04, 0.03, 0.06, 0.1, 0.14, 0.12, 0.1, 0.05, 0.02, 0.0, -0.03, 0.01, 0.06, 0.02, 0.0, 0.01, -0.05, -0.01,
  0.02, 0.0, 0.03, 0.01, -0.02, 0.0, 0.04, 0.02, 0.01, 0.0, -0.03, 0.0, 0.02, 0.01, 0.05, 0.02, -0.01, 0.0, 0.02, 0.01,
  -0.03, 0.0, 0.01, 0.02, 0.03, 0.04, 0.06, 0.02, 0.0, 0.01, 0.02, 0.0, -0.05, -0.01, 0.01, 0.02, 0.03, 0.0, -0.02, 0.0,
  0.02, 0.01, 0.0, 0.02, -0.02, 0.0, -0.06, -0.02, 0.01, 0.0, 0.03, 0.01, -0.02, 0.0, 0.04, 0.06, 0.09, 0.03, 0.02, 0.0,
  -0.03, 0.0, 0.01, 0.02, 0.04, 0.01, -0.02, 0.0, 0.02, 0.01, 0.0, 0.02, -0.03, 0.0, 0.02, 0.04, 0.07, 0.02, 0.0, 0.01,
  -0.04, -0.01, 0.02, 0.0, 0.01, 0.03, 0.06, 0.02, -0.02, 0.0, 0.03, 0.01, -0.08, -0.03, 0.05, 0.02, 0.0,
];
const ZCAS_V1 = [
  0.05, 0.02, -0.03, 0.0, 0.02, -0.02, -0.01, 0.03, 0.055, 0.01, -0.04, -0.01, 0.01, 0.03, -0.02, 0.0, 0.03, 0.01, 0.07, 0.02,
  -0.05, -0.047, -0.047, -0.047, -0.047, 0.02, 0.07, 0.03, 0.02, 0.0, -0.01, 0.02, -0.02, 0.0, 0.03, 0.01, 0.0, -0.02, -0.03, 0.01,
  0.02, 0.0, 0.02, 0.03, -0.02, 0.0, 0.01, -0.03, -0.08, -0.02, 0.0, 0.02, 0.03, -0.01, -0.02, 0.01, 0.05, 0.02, 0.01, -0.03,
  -0.08, -0.02, 0.0, 0.03, 0.05, 0.02, 0.06, 0.03, 0.01, 0.04, 0.03, 0.0, -0.02, 0.01, 0.02, -0.01, 0.0, 0.02, -0.03, -0.01,
  -0.06, -0.02, 0.01, 0.03, 0.02, 0.0, 0.07, 0.02, -0.01, 0.01, 0.02, -0.02, -0.05, 0.0, 0.0, 0.02, 0.03, 0.01, 0.06, 0.02,
  -0.02, 0.0, 0.01, 0.03, -0.04, -0.01, 0.02, 0.0, 0.0, 0.02, 0.09, 0.01, -0.05, -0.01, 0.05, 0.02, 0.01, 0.0, -0.03, 0.0,
  0.02, 0.04, 0.07, 0.06, 0.085, 0.1, 0.13, 0.08, 0.06, 0.05, 0.02, 0.0, 0.04, 0.02, -0.01, 0.01, 0.02, 0.0, 0.05, 0.03,
  0.0, -0.02, -0.03, 0.01, 0.02, 0.0, -0.02, 0.01, 0.01, -0.02, -0.06, -0.01, 0.02, 0.03, 0.06, 0.02, -0.01, 0.01, 0.02, -0.02,
  -0.05, 0.0, 0.0, 0.02, 0.03, 0.01, -0.02, 0.02, 0.06, 0.03, 0.01, -0.01, -0.03, 0.0, 0.02, 0.01, -0.02, 0.0, 0.03, 0.02,
  0.0, -0.02, -0.03, 0.0, 0.01, 0.02, 0.03, 0.0, -0.02, 0.01, 0.02, 0.04, -0.01, 0.0, 0.0, 0.02, -0.04, -0.01, 0.02, 0.03,
  0.06, 0.02, 0.0, -0.01, -0.03, -0.02, -0.07, 0.0, 0.01, 0.02, 0.03, 0.0, -0.02, 0.01, 0.02, 0.0, 0.04, 0.02, 0.0, -0.01,
  -0.02, 0.01, 0.01, -0.03, -0.07, -0.06, -0.02, 0.01, 0.02, 0.03, 0.05, 0.02, 0.01, 0.0, 0.03, 0.04, -0.01,
];

// ---------------- LAYOUT / STYLE ----------------
const FONT = '"Liberation Sans", Arial, Helvetica, sans-serif';
const INK = '#2e2e2e';
const YW = 60;
const PADR = 4;
const PADT = 10;
const PADB = 10;
const XH = 28;

type Sub = {
  top: number; bottom: number; ymin: number; ymax: number;
  yticks: number[]; yminor: number; line: string; iso?: string;
  values: number[]; v0: number; dv: number;
};
type Panel = {
  name: string; date: string; left: number; right: number;
  xmin: number; xmax: number; xticks: number[]; ytitle: [number, number];
  subs: Sub[];
};

const V2 = 'SiO v=2,J=1\u22120';
const V1 = 'SiO v=1,J=1\u22120';

const PANELS: Panel[] = [
  {
    name: '74. FP Aqr', date: '091206', left: 60, right: 392, xmin: -39.7, xmax: 68.6,
    xticks: [0, 50], ytitle: [17, 146],
    subs: [{ top: 80, bottom: 223, ymin: -0.08, ymax: 0.244, yticks: [0, 0.1, 0.2], yminor: 0.02, line: V1, values: FP_AQR_V1, v0: FP_AQR_V0, dv: FP_AQR_DV }],
  },
  {
    name: '75. X Cep', date: '090610(\u03d5=0.65)', left: 459, right: 793, xmin: -30, xmax: 89,
    xticks: [0, 50], ytitle: [414, 213],
    subs: [
      { top: 15, bottom: 158, ymin: -0.177, ymax: 0.485, yticks: [0, 0.2, 0.4], yminor: 0.05, line: V2, values: XCEP_A_V2, v0: XCEP_A_V0, dv: XCEP_A_DV },
      { top: 158, bottom: 302, ymin: -0.21, ymax: 0.4, yticks: [-0.2, 0, 0.2], yminor: 0.05, line: V1, values: XCEP_A_V1, v0: XCEP_A_V0, dv: XCEP_A_DV },
    ],
  },
  {
    name: '75. X Cep', date: '100504(\u03d5=0.29)', left: 854, right: 1190, xmin: -30.1, xmax: 90.7,
    xticks: [0, 50], ytitle: [812, 220],
    subs: [
      { top: 15, bottom: 157, ymin: -0.102, ymax: 0.4, yticks: [0, 0.2], yminor: 0.05, line: V2, values: XCEP_B_V2, v0: XCEP_B_V0, dv: XCEP_B_DV },
      { top: 157, bottom: 302, ymin: -0.153, ymax: 0.684, yticks: [0, 0.2, 0.4, 0.6], yminor: 0.05, line: V1, values: XCEP_B_V1, v0: XCEP_B_V0, dv: XCEP_B_DV },
    ],
  },
  {
    name: '76. T Cep', date: '091113(\u03d5=0.78)', left: 55, right: 391, xmin: -60.8, xmax: 54.7,
    xticks: [-50, 0, 50], ytitle: [15, 561],
    subs: [
      { top: 372, bottom: 514, ymin: -0.3, ymax: 3.65, yticks: [0, 1, 2, 3], yminor: 0.2, line: V2, values: TCEP_V2, v0: TCEP_V0, dv: TCEP_DV },
      { top: 514, bottom: 656, ymin: -0.235, ymax: 2.99, yticks: [0, 1, 2], yminor: 0.2, line: V1, values: TCEP_V1, v0: TCEP_V0, dv: TCEP_DV },
    ],
  },
  {
    name: '78. RV Peg', date: '091114(\u03d5=0.51)', left: 57, right: 392, xmin: -83, xmax: 31,
    xticks: [-50, 0], ytitle: [11, 796],
    subs: [{ top: 730, bottom: 872, ymin: -0.065, ymax: 0.125, yticks: [-0.05, 0, 0.05, 0.1], yminor: 0.01, line: V2, values: RVPEG_V2, v0: RVPEG_V0, dv: RVPEG_DV }],
  },
  {
    name: '79. SS Peg', date: '091114(\u03d5=0.96)', left: 461, right: 794, xmin: -69.5, xmax: 44,
    xticks: [-50, 0], ytitle: [416, 680],
    subs: [
      { top: 465, bottom: 606, ymin: -0.152, ymax: 0.77, yticks: [0, 0.2, 0.4, 0.6], yminor: 0.05, line: V2, values: SSPEG_V2, v0: SSPEG_V0, dv: SSPEG_DV },
      { top: 606, bottom: 752, ymin: -0.137, ymax: 0.693, yticks: [0, 0.2, 0.4, 0.6], yminor: 0.05, line: V1, values: SSPEG_V1, v0: SSPEG_V0, dv: SSPEG_DV },
    ],
  },
  {
    name: '80. V Cas', date: '091112(\u03d5=0.13)', left: 854, right: 1192, xmin: -88.8, xmax: 32.3,
    xticks: [-50, 0], ytitle: [812, 673],
    subs: [
      { top: 465, bottom: 605, ymin: -0.103, ymax: 0.21, yticks: [-0.1, 0, 0.1, 0.2], yminor: 0.02, line: V2, values: VCAS_V2, v0: VCAS_V0, dv: VCAS_DV },
      { top: 605, bottom: 750, ymin: -0.144, ymax: 0.667, yticks: [0, 0.2, 0.4, 0.6], yminor: 0.05, line: V1, values: VCAS_V1, v0: VCAS_V0, dv: VCAS_DV },
    ],
  },
  {
    name: '82. R Aqr', date: '091114(\u03d5=0.84)', left: 57, right: 392, xmin: -79.3, xmax: 34.7,
    xticks: [-50, 0], ytitle: [15, 1227],
    subs: [
      { top: 1018, bottom: 1160, ymin: -0.41, ymax: 8.3, yticks: [0, 2, 4, 6, 8], yminor: 0.5, line: V2, values: RAQR_A_V2, v0: RAQR_A_V0, dv: RAQR_A_DV },
      { top: 1160, bottom: 1303, ymin: -0.33, ymax: 4.88, yticks: [0, 2, 4], yminor: 0.5, line: V1, values: RAQR_A_V1, v0: RAQR_A_V0, dv: RAQR_A_DV },
    ],
  },
  {
    name: '82. R Aqr', date: '100508(\u03d5=0.29)', left: 461, right: 793, xmin: -80, xmax: 34.3,
    xticks: [-50, 0], ytitle: [417, 1297],
    subs: [
      { top: 945, bottom: 1087, ymin: -0.085, ymax: 0.122, yticks: [-0.05, 0, 0.05, 0.1], yminor: 0.01, line: 'SiO v=0,J=1\u22120', iso: '29', values: RAQR_B_29SIO_V0, v0: RAQR_B_V0, dv: RAQR_B_29SIO_DV },
      { top: 1087, bottom: 1230, ymin: -0.58, ymax: 12.56, yticks: [0, 5, 10], yminor: 1, line: V2, values: RAQR_B_V2, v0: RAQR_B_V0, dv: RAQR_B_DV },
      { top: 1230, bottom: 1373, ymin: -0.75, ymax: 14.07, yticks: [0, 5, 10], yminor: 1, line: V1, values: RAQR_B_V1, v0: RAQR_B_V0, dv: RAQR_B_DV },
    ],
  },
  {
    name: '83. Z Cas', date: '091112(\u03d5=0.61)', left: 855, right: 1192, xmin: -87, xmax: 31.4,
    xticks: [-50, 0], ytitle: [810, 1230],
    subs: [
      { top: 1017, bottom: 1159, ymin: -0.115, ymax: 0.533, yticks: [0, 0.2, 0.4], yminor: 0.05, line: V2, values: ZCAS_V2, v0: ZCAS_V0, dv: ZCAS_DV },
      { top: 1159, bottom: 1303, ymin: -0.09, ymax: 0.1485, yticks: [-0.05, 0, 0.05, 0.1], yminor: 0.01, line: V1, values: ZCAS_V1, v0: ZCAS_V0, dv: ZCAS_DV },
    ],
  },
];

const fmt = (v: number | string) => {
  const n = Math.round(Number(v) * 1000) / 1000;
  if (n === 0) return '0';
  return String(n).replace('-', '\u2212');
};

const framePlugin = {
  id: 'frame',
  afterDatasetsDraw(chart: any) {
    const o = chart.options.plugins.frame;
    const { ctx, chartArea: a, scales } = chart;
    ctx.save();
    ctx.strokeStyle = INK;
    ctx.lineWidth = 1.4;
    ctx.strokeRect(a.left + 0.5, a.top + 0.5, a.right - a.left, a.bottom - a.top);
    ctx.lineWidth = 1;
    const draw = (scale: any, minor: number, major: number, horiz: boolean) => {
      const k0 = Math.ceil(scale.min / minor - 1e-9);
      const k1 = Math.floor(scale.max / minor + 1e-9);
      for (let k = k0; k <= k1; k++) {
        const v = k * minor;
        const r = v / major;
        const isMajor = Math.abs(r - Math.round(r)) < 1e-6;
        const len = isMajor ? 7 : 4;
        const p = Math.round(scale.getPixelForValue(v)) + 0.5;
        ctx.beginPath();
        if (horiz) {
          ctx.moveTo(p, a.bottom + 0.5); ctx.lineTo(p, a.bottom + 0.5 - len);
          ctx.moveTo(p, a.top + 0.5); ctx.lineTo(p, a.top + 0.5 + len);
        } else {
          ctx.moveTo(a.left + 0.5, p); ctx.lineTo(a.left + 0.5 + len, p);
          ctx.moveTo(a.right + 0.5, p); ctx.lineTo(a.right + 0.5 - len, p);
        }
        ctx.stroke();
      }
    };
    draw(scales.x, o.xMinor, o.xMajor, true);
    draw(scales.y, o.yMinor, o.yMajor, false);
    ctx.restore();
  },
};

function SubChart({ p, s, last }: { p: Panel; s: Sub; last: boolean }) {
  const ref = useRef<HTMLCanvasElement>(null);
  const w = p.right - p.left + YW + PADR;
  const h = s.bottom - s.top + PADT + (last ? XH : PADB);
  useEffect(() => {
    const pts = s.values.map((y, i) => ({ x: s.v0 + i * s.dv, y }));
    const yMajor = s.yticks.length > 1 ? s.yticks[1] - s.yticks[0] : s.yminor * 5;
    const tickFont = { family: FONT, size: 15 };
    const chart = new Chart(ref.current as HTMLCanvasElement, {
      type: 'line',
      data: {
        datasets: [{
          data: pts,
          borderColor: INK,
          borderWidth: 1,
          pointRadius: 0,
          stepped: 'middle',
          fill: false,
        } as any],
      },
      plugins: [framePlugin as any],
      options: {
        responsive: false,
        animation: false,
        devicePixelRatio: 1,
        events: [],
        layout: { padding: { left: 0, right: PADR, top: PADT, bottom: last ? 0 : PADB } },
        plugins: {
          legend: { display: false },
          tooltip: { enabled: false },
          frame: { xMinor: 10, xMajor: 50, yMinor: s.yminor, yMajor },
        } as any,
        scales: {
          x: {
            type: 'linear', min: p.xmin, max: p.xmax, display: last,
            grid: { display: false, drawTicks: false }, border: { display: false },
            afterBuildTicks: (ax: any) => { ax.ticks = p.xticks.map((v) => ({ value: v })); },
            afterFit: (ax: any) => { ax.height = last ? XH : 0; ax.paddingLeft = 0; ax.paddingRight = 0; },
            ticks: { padding: 7, font: tickFont, color: INK, callback: (v: any) => fmt(v), maxRotation: 0, autoSkip: false },
          },
          y: {
            type: 'linear', min: s.ymin, max: s.ymax,
            grid: { display: false, drawTicks: false }, border: { display: false },
            afterBuildTicks: (ax: any) => { ax.ticks = s.yticks.map((v) => ({ value: v })); },
            afterFit: (ax: any) => { ax.width = YW; ax.paddingTop = 0; ax.paddingBottom = 0; },
            ticks: { padding: 8, font: tickFont, color: INK, callback: (v: any) => fmt(v), autoSkip: false },
          },
        } as any,
      },
    });
    return () => chart.destroy();
  }, []);
  return (
    <canvas
      ref={ref}
      width={w}
      height={h}
      style={{ position: 'absolute', left: p.left - YW, top: s.top - PADT, width: w, height: h }}
    />
  );
}

function Txt({ x, y, align = 'left', children, size = 15 }: any) {
  const tx = align === 'left' ? '0' : align === 'right' ? '-100%' : '-50%';
  return (
    <div style={{ position: 'absolute', left: x, top: y, transform: `translate(${tx}, -50%)`, fontSize: size, lineHeight: 1, whiteSpace: 'nowrap' }}>
      {children}
    </div>
  );
}

const subStyle: React.CSSProperties = { fontSize: '0.68em', verticalAlign: '-0.3em', lineHeight: 0 };
const supStyle: React.CSSProperties = { fontSize: '0.68em', verticalAlign: '0.55em', lineHeight: 0 };

export default function App() {
  return (
    <div style={{ position: 'absolute', left: 0, top: 0, width: 1200, height: 1418, background: '#fff', color: INK, fontFamily: FONT, overflow: 'hidden' }}>
      {PANELS.map((p, pi) => {
        const lastSub = p.subs[p.subs.length - 1];
        return (
          <React.Fragment key={pi}>
            {p.subs.map((s, si) => (
              <SubChart key={si} p={p} s={s} last={si === p.subs.length - 1} />
            ))}
            <Txt x={p.left + 3} y={p.subs[0].top + 11}>{p.name}</Txt>
            <Txt x={p.left + 3} y={p.subs[0].top + 27}>{p.date}</Txt>
            {p.subs.map((s, si) => (
              <Txt key={'l' + si} x={p.right - 3} y={s.top + 11} align="right">
                {s.iso ? <span style={supStyle}>{s.iso}</span> : null}
                {s.line}
              </Txt>
            ))}
            <Txt x={(p.left + p.right) / 2} y={lastSub.bottom + 31} align="center">
              V<span style={subStyle}>LSR</span> (km s<span style={supStyle}>{'\u22121'}</span>)
            </Txt>
            <div style={{ position: 'absolute', left: p.ytitle[0], top: p.ytitle[1], transform: 'translate(-50%, -50%) rotate(-90deg)', fontSize: 14, lineHeight: 1, whiteSpace: 'nowrap' }}>
              T<span style={subStyle}>A</span><span style={supStyle}>*</span>(K)
            </div>
          </React.Fragment>
        );
      })}
    </div>
  );
}
